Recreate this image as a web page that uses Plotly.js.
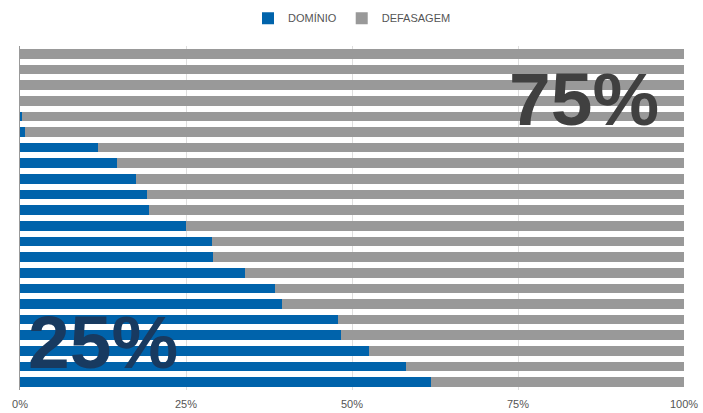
<!DOCTYPE html>
<html>
<head>
<meta charset="utf-8">
<script src="https://cdn.plot.ly/plotly-3.0.1.min.js"></script>
<style>html,body{margin:0;padding:0;background:#fff;}#chart{width:703px;height:413px;}</style>
</head>
<body>
<div id="chart"></div>
<script>
var categories = ["A1","A2","A3","A4","A5","A6","A7","A8","A9","A10","A11","A12","A13","A14","A15","A16","A17","A18","A19","A20","A21","A22"];
var dominio =   [0, 0, 0, 0, 0.3, 0.8, 11.7, 14.6, 17.5, 19.2, 19.4, 25.0, 28.9, 29.1, 33.9, 38.4, 39.5, 47.9, 48.3, 52.5, 58.1, 61.9];
var defasagem = [100, 100, 100, 100, 99.7, 99.2, 88.3, 85.4, 82.5, 80.8, 80.6, 75.0, 71.1, 70.9, 66.1, 61.6, 60.5, 52.1, 51.7, 47.5, 41.9, 38.1];
var xTicks = [0, 25, 50, 75, 100];
var xTickLabels = ["0%", "25%", "50%", "75%", "100%"];

var traces = [
  {type:'bar', orientation:'h', name:'DOMÍNIO', y:categories, x:dominio, marker:{color:'#0063AB'}, hoverinfo:'x'},
  {type:'bar', orientation:'h', name:'DEFASAGEM', y:categories, x:defasagem, marker:{color:'#999999'}, hoverinfo:'x'}
];
var layout = {
  width:703, height:413,
  margin:{l:20, r:19, t:46, b:23, autoexpand:false},
  paper_bgcolor:'#fff', plot_bgcolor:'#fff',
  barmode:'stack', bargap:0.38,
  font:{family:'Liberation Sans, Arial, sans-serif', size:11, color:'#555'},
  showlegend:true,
  legend:{orientation:'h', x:0.5, xanchor:'center', yref:'container', y:0.956, yanchor:'middle', font:{size:11, color:'#555'}, traceorder:'normal'},
  xaxis:{range:[0,100], tickvals:xTicks, ticktext:xTickLabels, showgrid:true, gridcolor:'#dedede', zeroline:false, showline:false, ticks:'', ticklabelstandoff:6, tickfont:{size:11, color:'#555'}, fixedrange:true, automargin:false},
  yaxis:{autorange:'reversed', showticklabels:false, ticks:'', showgrid:false, showline:true, linecolor:'#999', linewidth:1, zeroline:false, fixedrange:true, automargin:false},
  annotations:[
    {text:'<b>75%</b>', xref:'x', yref:'paper', x:84.9, y:0.847, xanchor:'center', yanchor:'middle', showarrow:false, font:{family:'Liberation Sans, Arial, sans-serif', size:75, color:'#404040'}},
    {text:'<b>25%</b>', xref:'x', yref:'paper', x:12.5, y:0.14, xanchor:'center', yanchor:'middle', showarrow:false, font:{family:'Liberation Sans, Arial, sans-serif', size:75, color:'#183a60'}}
  ]
};
Plotly.newPlot('chart', traces, layout, {displayModeBar:false, staticPlot:true});
</script>
</body>
</html>
